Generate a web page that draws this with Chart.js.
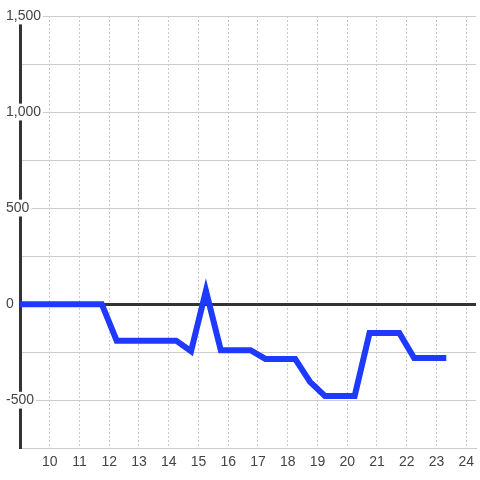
<!DOCTYPE html>
<html>
<head>
<meta charset="utf-8">
<script src="https://cdn.jsdelivr.net/npm/chart.js@4/dist/chart.umd.min.js"></script>
<style>
  html, body { margin: 0; padding: 0; background: #fff; }
  #wrap { width: 480px; height: 480px; position: relative; }
</style>
</head>
<body>
<div id="wrap"><canvas id="chart"></canvas></div>
<script>
  var hours = [9, 11.75, 12.25, 14.25, 14.75, 15.25, 15.75, 16.75, 17.25, 18.25, 18.75, 19.25, 20.25, 20.75, 21.75, 22.25, 23.33];
  var values = [0, 0, -190, -190, -245, 70, -240, -240, -285, -285, -405, -478, -478, -150, -150, -280, -280];

  var xMin = 9;
  var xMax = 24.33;
  var yMin = -750;
  var yMax = 1500;

  var points = hours.map(function (h, i) {
    return { x: h, y: values[i] };
  });

  Chart.defaults.font.family = "'Liberation Sans', Arial, sans-serif";
  Chart.defaults.font.size = 14;
  Chart.defaults.color = '#444';

  new Chart(document.getElementById('chart'), {
    type: 'line',
    data: {
      datasets: [{
        data: points,
        borderColor: '#1f3aff',
        borderWidth: 6,
        borderJoinStyle: 'miter',
        pointRadius: 0,
        tension: 0,
        fill: false
      }]
    },
    options: {
      responsive: true,
      maintainAspectRatio: false,
      animation: false,
      layout: { padding: { left: 6, right: 0, top: 16, bottom: 3 } },
      plugins: {
        legend: { display: false },
        tooltip: { enabled: false }
      },
      scales: {
        x: {
          type: 'linear',
          min: xMin,
          max: xMax,
          grid: {
            drawTicks: false,
            color: function (ctx) {
              return ctx.tick && ctx.tick.value === xMin ? 'rgba(0,0,0,0)' : '#c8c8c8';
            }
          },
          border: { color: '#cccccc', width: 1, dash: [2, 2] },
          ticks: {
            stepSize: 1,
            includeBounds: false,
            padding: 6,
            maxRotation: 0,
            callback: function (val) {
              return val === xMin ? '' : val;
            }
          }
        },
        y: {
          min: yMin,
          max: yMax,
          afterFit: function (scale) {
            scale.width = 14;
          },
          grid: {
            drawTicks: false,
            color: function (ctx) {
              return ctx.tick && ctx.tick.value === 0 ? '#333' : '#cccccc';
            },
            lineWidth: function (ctx) {
              return ctx.tick && ctx.tick.value === 0 ? 3 : 1;
            }
          },
          border: { color: '#333', width: 3 },
          ticks: {
            stepSize: 250,
            mirror: true,
            crossAlign: 'near',
            padding: -14,
            showLabelBackdrop: function (ctx) {
              return ctx.tick && ctx.tick.value % 500 === 0;
            },
            backdropColor: '#ffffff',
            backdropPadding: { left: 2, right: 2, top: 0, bottom: 0 },
            callback: function (val) {
              return val % 500 === 0 ? val.toLocaleString('en-US') : '';
            }
          }
        }
      }
    }
  });
</script>
</body>
</html>
